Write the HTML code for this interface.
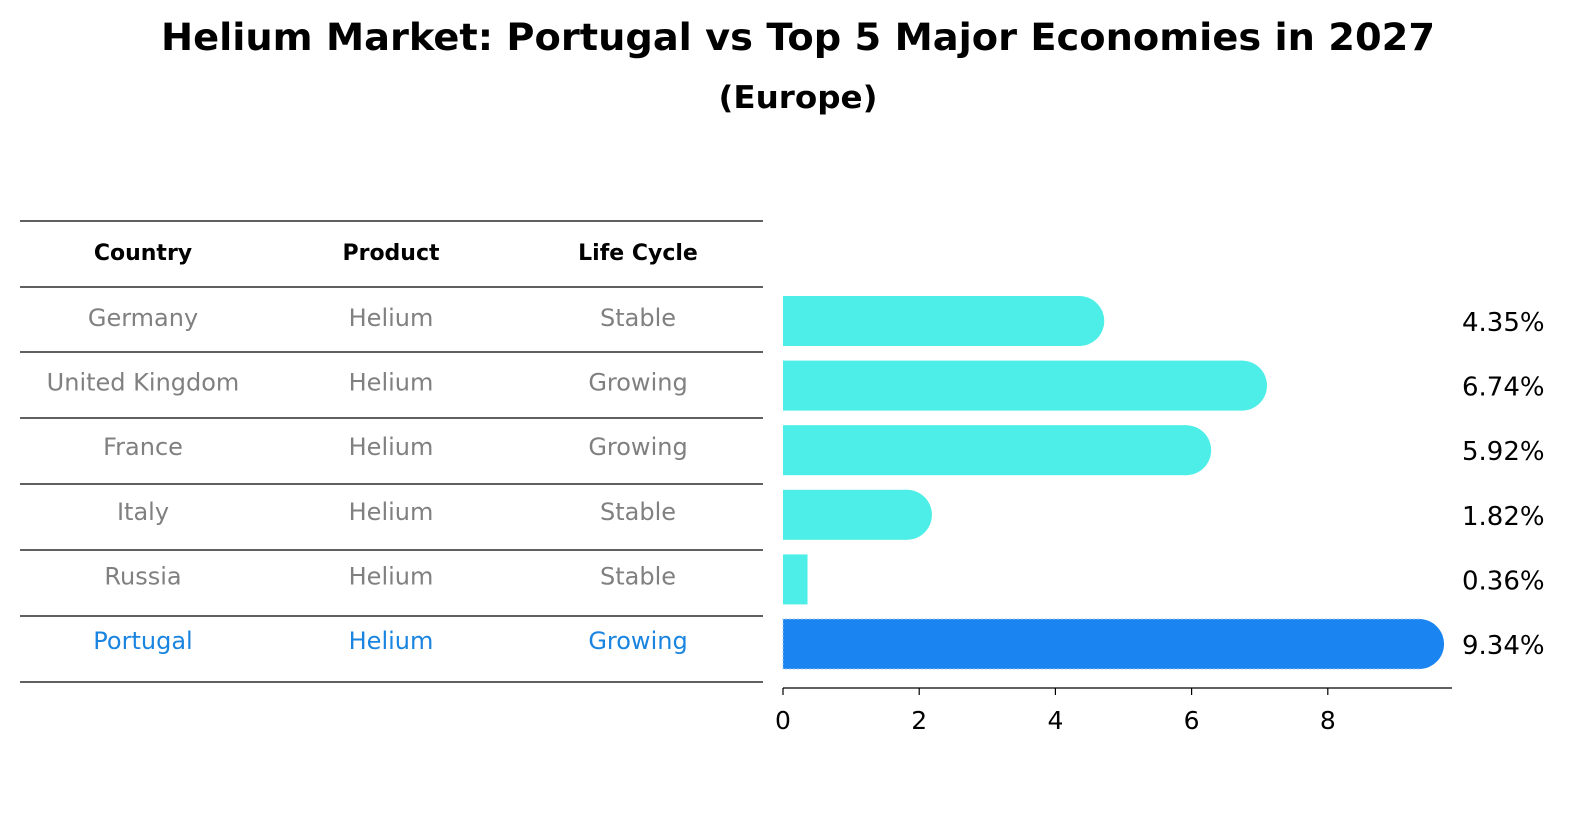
<!DOCTYPE html>
<html><head><meta charset="utf-8"><style>
html,body{margin:0;padding:0;background:#fff;overflow:hidden;width:1586px;height:823px;}
svg{display:block;}
svg text{font-family:"DejaVu Sans","Liberation Sans",sans-serif;}
</style></head><body>
<svg id="c" width="1586" height="823" xmlns="http://www.w3.org/2000/svg">
<text x="798" y="50" text-anchor="middle" font-size="37" font-weight="bold" textLength="1274" lengthAdjust="spacingAndGlyphs">Helium Market: Portugal vs Top 5 Major Economies in 2027</text>
<text x="798" y="108" text-anchor="middle" font-size="31" font-weight="bold" textLength="159" lengthAdjust="spacingAndGlyphs">(Europe)</text>
<g id="table"></g>
<g id="bars"></g>
</svg>
<script>
const countries=["Germany","United Kingdom","France","Italy","Russia","Portugal"];
const products=["Helium","Helium","Helium","Helium","Helium","Helium"];
const lifeCycle=["Stable","Growing","Growing","Stable","Stable","Growing"];
const values=[4.35,6.74,5.92,1.82,0.36,9.34];
const ticks=[0,2,4,6,8];
const NS="http://www.w3.org/2000/svg";
function mk(tag,attrs,parent){const e=document.createElementNS(NS,tag);for(const k in attrs)e.setAttribute(k,attrs[k]);parent.appendChild(e);return e;}
const tbl=document.getElementById('table'),bars=document.getElementById('bars');
const lineYs=[221,287,352,418,484,550,616,682];
lineYs.forEach(y=>{const l=mk('line',{x1:20,x2:763,y1:y,y2:y,stroke:'#000','stroke-width':1.2},tbl);

});
const colX=[143,391,638],hdr=["Country","Product","Life Cycle"];
hdr.forEach((h,i)=>{const t=mk('text',{x:colX[i],y:260,'text-anchor':'middle','font-size':22,'font-weight':'bold'},tbl);t.textContent=h;

});
const xs=v=>783+v*68.1;
const rowY=i=>321+i*64.6;
countries.forEach((c,i)=>{
 const isP=c==="Portugal",col=isP?'#1a85e0':'#808080';
 [c,products[i],lifeCycle[i]].forEach((s,j)=>{const t=mk('text',{x:colX[j],y:rowY(i)+5,'text-anchor':'middle','font-size':24,fill:col},tbl);t.textContent=s;
 
 });
 const v=values[i],y=rowY(i),h=50,fill=isP?'#1a85f0':'#4deee8';
 const g=mk('g',{},bars);
 
 
 mk('rect',{x:783,y:y-h/2,width:xs(v)-783,height:h,fill:fill},g);
 if(v>1)mk('circle',{cx:xs(v),cy:y,r:h/2,fill:fill},g);
 if(isP)mk('path',{d:`M${xs(v)},${y-h/2} H783 V${y+h/2} H${xs(v)}`,fill:'none',stroke:'#9cc8f5','stroke-width':1,'stroke-dasharray':'2,2'},g);
 const t=mk('text',{x:1462,y:y+10,'font-size':26},bars);t.textContent=v.toFixed(2)+'%';
 
 
});
const ax=mk('line',{x1:783,x2:1452,y1:688,y2:688,stroke:'#000','stroke-width':1.2},bars);


ticks.forEach(t=>{mk('line',{x1:xs(t),x2:xs(t),y1:688,y2:695,stroke:'#000','stroke-width':1.2},bars);
 const l=mk('text',{x:xs(t),y:729,'text-anchor':'middle','font-size':25},bars);l.textContent=t;
 
 });
</script>
</body></html>
